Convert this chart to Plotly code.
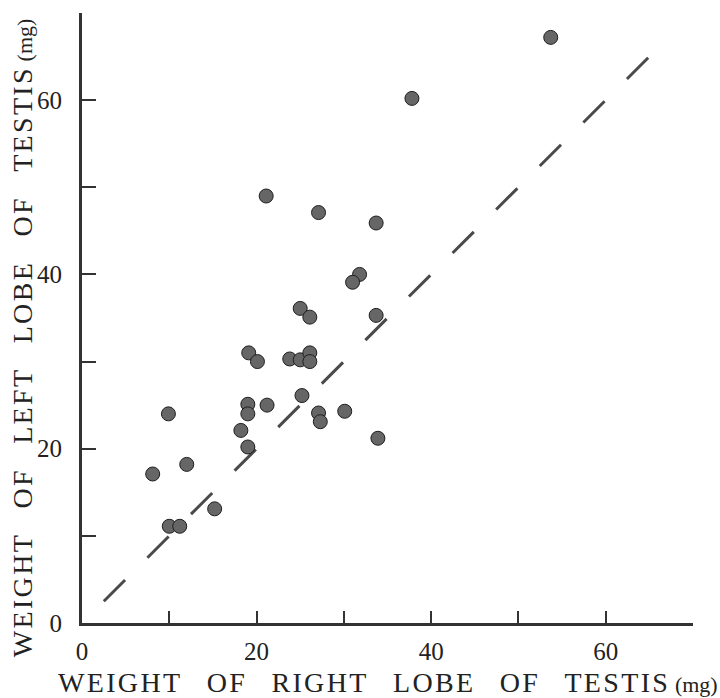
import plotly.graph_objects as go

# Testis lobe weights (mg): right lobe (x) vs left lobe (y)
right_lobe = [53.7, 37.8, 21.1, 27.1, 33.7, 31.8, 31.0, 25.0, 26.1, 33.7,
              19.1, 20.1, 23.8, 25.0, 26.1, 26.1, 25.2, 19.0, 21.2, 19.0,
              27.1, 27.3, 30.1, 18.2, 33.9, 19.0, 9.9, 12.0, 8.1, 15.2,
              10.0, 11.2]
left_lobe = [67.2, 60.2, 49.0, 47.1, 45.9, 40.0, 39.1, 36.1, 35.1, 35.3,
             31.0, 30.0, 30.3, 30.2, 31.0, 30.0, 26.1, 25.1, 25.0, 24.0,
             24.1, 23.1, 24.3, 22.1, 21.2, 20.2, 24.0, 18.2, 17.1, 13.1,
             11.1, 11.1]

# Line of equality drawn across the data range
equal_line = [2.5, 65.0]

tick_vals = [0, 10, 20, 30, 40, 50, 60, 70]
tick_text = ["0", "", "20", "", "40", "", "60", ""]

SERIF = "Liberation Serif, Times New Roman, serif"
NB = "\u00a0"
HAIR = "\u200a"
GAP = NB * 3 + "\u2009"
UNIT = NB + "<span style='font-size:22px'>(mg)</span>"


def spaced(words):
    """Letter-spaced caps with wide gaps between words."""
    return GAP.join(HAIR.join(w) for w in words)


x_title = spaced(["WEIGHT", "OF", "RIGHT", "LOBE", "OF", "TESTIS"]) + UNIT
y_title = spaced(["WEIGHT", "OF", "LEFT", "LOBE", "OF", "TESTIS"]) + UNIT

fig = go.Figure()

fig.add_trace(go.Scatter(
    x=equal_line, y=equal_line, mode="lines",
    line=dict(color="#4a4a4a", width=3, dash="30px,31.6px"),
    hoverinfo="skip", showlegend=False,
))

fig.add_trace(go.Scatter(
    x=right_lobe, y=left_lobe, mode="markers",
    marker=dict(size=14, color="#666666", line=dict(color="#1e1e1e", width=1)),
    showlegend=False,
))

axis_common = dict(
    range=[0, 70], tickvals=tick_vals, ticktext=tick_text,
    ticks="inside", tickwidth=2, tickcolor="#333333",
    showline=True, linecolor="#333333", linewidth=3,
    showgrid=False, zeroline=False,
    tickfont=dict(family=SERIF, size=25, color="#222222"),
    fixedrange=True,
)

fig.update_xaxes(**axis_common, ticklen=12, ticklabelstandoff=4)
fig.update_yaxes(**axis_common, ticklen=14, ticklabelstandoff=12)

fig.add_annotation(
    text=x_title, xref="paper", yref="paper", x=0.5, y=-0.097,
    xanchor="center", yanchor="middle", showarrow=False,
    font=dict(family=SERIF, size=28, color="#222222"),
)
fig.add_annotation(
    text=y_title, xref="paper", yref="paper", x=-0.098, y=0.467,
    xanchor="center", yanchor="middle", showarrow=False, textangle=-90,
    font=dict(family=SERIF, size=28, color="#222222"),
)

fig.update_layout(
    width=720, height=698,
    margin=dict(l=82, r=27, t=13, b=75),
    plot_bgcolor="white", paper_bgcolor="white",
)

fig.write_html("out.html")
